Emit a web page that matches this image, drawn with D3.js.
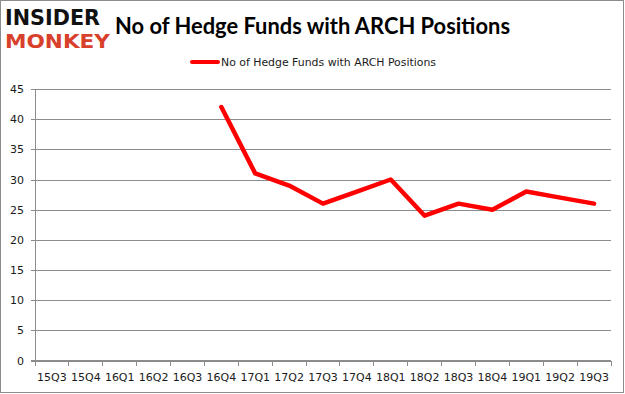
<!DOCTYPE html>
<html lang="en">
<head>
  <meta charset="UTF-8" />
  <title>No of Hedge Funds with ARCH Positions</title>
  <script src="https://d3js.org/d3.v7.min.js"></script>
  <style>
    body { margin: 0; background: #fff; }
    svg { display: block; }
    .tick-label { font-family: "DejaVu Sans", sans-serif; font-size: 11px; fill: #1a1a1a; }
    .grid { stroke: #8c8c8c; stroke-width: 1px; shape-rendering: crispEdges; }
    .series { stroke: #ff0000; stroke-width: 4.5px; fill: none; stroke-linejoin: round; stroke-linecap: round; }
  </style>
</head>
<body>
  <svg id="chart" width="625" height="394"></svg>

  <script>
    const quarters = ['15Q3', '15Q4', '16Q1', '16Q2', '16Q3', '16Q4', '17Q1', '17Q2', '17Q3',
                      '17Q4', '18Q1', '18Q2', '18Q3', '18Q4', '19Q1', '19Q2', '19Q3'];
    const funds = [null, null, null, null, null, 42, 31, 29, 26, 28, 30, 24, 26, 25, 28, 27, 26];
    const yTicks = [0, 5, 10, 15, 20, 25, 30, 35, 40, 45];
    const seriesName = 'No of Hedge Funds with ARCH Positions';

    const svg = d3.select('#chart');
    const plotL = 35, plotR = 611, plotT = 89, plotB = 360.5;

    const x = d3.scaleBand().domain(quarters).range([plotL, plotR]).paddingInner(0).paddingOuter(0);
    const y = d3.scaleLinear().domain([0, 45]).range([plotB, plotT]);

    // outer frame
    svg.append('rect').attr('x', 0.5).attr('y', 0.5).attr('width', 623).attr('height', 392)
      .attr('fill', '#fff').attr('stroke', '#8c8c8c');

    // logo
    svg.append('text').attr('x', 5).attr('y', 25)
      .style('font-family', '"DejaVu Sans", sans-serif').style('font-weight', 'bold')
      .style('font-size', '21px').attr('textLength', 95).attr('lengthAdjust', 'spacingAndGlyphs')
      .attr('fill', '#111').text('INSIDER');
    svg.append('text').attr('x', 5).attr('y', 48)
      .style('font-family', '"DejaVu Sans", sans-serif').style('font-weight', 'bold')
      .style('font-size', '19px').attr('textLength', 105).attr('lengthAdjust', 'spacingAndGlyphs')
      .attr('fill', '#d8402c').text('MONKEY');

    // title
    svg.append('text').attr('x', 115).attr('y', 34)
      .style('font-family', 'Lato, sans-serif').style('font-weight', 'bold').style('font-size', '23px')
      .attr('textLength', 395).attr('lengthAdjust', 'spacingAndGlyphs')
      .attr('fill', '#000').text('No of Hedge Funds with ARCH Positions');

    // legend
    svg.append('line').attr('x1', 192).attr('x2', 218).attr('y1', 62).attr('y2', 62)
      .attr('stroke', '#ff0000').attr('stroke-width', 4).attr('stroke-linecap', 'round');
    svg.append('text').attr('x', 221).attr('y', 66)
      .style('font-family', '"DejaVu Sans", sans-serif').style('font-size', '10.5px')
      .attr('textLength', 215).attr('lengthAdjust', 'spacingAndGlyphs')
      .attr('fill', '#1a1a1a').text(seriesName);

    // y grid + axis
    const yAxis = d3.axisLeft(y).tickValues(yTicks).tickSize(-(plotR - plotL)).tickPadding(8);
    const gy = svg.append('g').attr('transform', `translate(${plotL},0)`).call(yAxis);
    gy.select('.domain').remove();
    gy.selectAll('.tick line').attr('class', 'grid').attr('x1', -4);
    gy.selectAll('.tick text').attr('class', 'tick-label').attr('x', -11);
    svg.append('line').attr('class', 'grid')
      .attr('x1', plotL).attr('x2', plotL).attr('y1', plotT).attr('y2', plotB);

    // x axis
    const xAxis = d3.axisBottom(x).tickSize(0).tickPadding(13);
    const gx = svg.append('g').attr('transform', `translate(0,${plotB})`).call(xAxis);
    gx.select('.domain').remove();
    gx.selectAll('.tick text').attr('class', 'tick-label');
    svg.append('line').attr('class', 'grid').attr('x1', plotL - 4).attr('x2', plotR).attr('y1', plotB).attr('y2', plotB);
    const bounds = quarters.map(q => x(q)).concat([plotR]);
    svg.selectAll('line.xtick').data(bounds).enter().append('line')
      .attr('class', 'grid xtick')
      .attr('x1', d => d).attr('x2', d => d).attr('y1', plotB).attr('y2', plotB + 5);

    // series
    const line = d3.line()
      .defined(d => d.v != null)
      .x(d => x(d.q) + x.bandwidth() / 2)
      .y(d => y(d.v));
    svg.append('path').attr('class', 'series')
      .attr('d', line(quarters.map((q, i) => ({ q, v: funds[i] }))));
  </script>
</body>
</html>
